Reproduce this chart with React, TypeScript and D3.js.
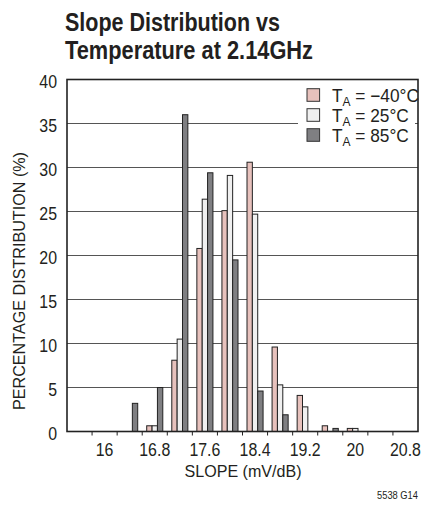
import React from "react";
import * as d3 from "d3";

const bins = [15.6, 16.0, 16.4, 16.8, 17.2, 17.6, 18.0, 18.4, 18.8, 19.2, 19.6, 20.0, 20.4, 20.8];
const tMinus40 = [0, 0, 0, 0.65, 8.1, 20.8, 25.1, 30.6, 9.6, 4.1, 0.65, 0.35, 0, 0];
const t25 = [0, 0, 0, 0.65, 10.5, 26.4, 29.1, 24.7, 5.3, 2.8, 0, 0.35, 0, 0];
const t85 = [0, 0, 3.2, 5.0, 36.0, 29.4, 19.5, 4.6, 1.9, 0, 0.35, 0, 0, 0];
const xTickLabels = ["16", "16.8", "17.6", "18.4", "19.2", "20", "20.8"];
const yTicks = [0, 5, 10, 15, 20, 25, 30, 35, 40];
const seriesNames = ["−40°C", "25°C", "85°C"];
const seriesColors = ["#e7c1bc", "#f0f0f0", "#7f7f82"];

const FONT = "'Liberation Sans', Arial, Helvetica, sans-serif";
const INK = "#231f20";

function NText(props: {
  x: number;
  y: number;
  sx?: number;
  size: number;
  anchor?: "start" | "middle" | "end";
  weight?: string;
  children: React.ReactNode;
}) {
  const sx = props.sx ?? 0.86;
  return (
    <g transform={`translate(${props.x},${props.y}) scale(${sx},1)`}>
      <text x={0} y={0} fontSize={props.size} textAnchor={props.anchor ?? "start"} fontWeight={props.weight ?? "normal"} fill={INK}>
        {props.children}
      </text>
    </g>
  );
}

export default function App() {
  const left = 67, right = 418, top = 79.5, bottom = 431.5;
  const x = d3.scaleBand<number>().domain(bins).range([left, right]).paddingInner(0).paddingOuter(0);
  const y = d3.scaleLinear().domain([0, 40]).range([bottom, top]);
  const inner = d3.scaleBand<number>().domain([0, 1, 2]).range([0, x.bandwidth()]).paddingInner(0).paddingOuter(0.84);
  const series = [tMinus40, t25, t85];
  const edges = bins.slice(1).map((b) => (x(b) as number));

  return (
    <svg width={425} height={519} style={{ position: "absolute", left: 0, top: 0, background: "#fff" }} fontFamily={FONT}>
      <rect x={0} y={0} width={425} height={519} fill="#fff" />
      {/* Title */}
      <text x={65} y={31} fontSize={25} fontWeight="bold" fill={INK} textLength={215} lengthAdjust="spacingAndGlyphs">
        Slope Distribution vs
      </text>
      <text x={65} y={59} fontSize={25} fontWeight="bold" fill={INK} textLength={248} lengthAdjust="spacingAndGlyphs">
        Temperature at 2.14GHz
      </text>

      {/* gridlines */}
      {yTicks.slice(1, -1).map((t) => (
        <line key={"g" + t} x1={left} x2={right} y1={y(t)} y2={y(t)} stroke="#555" strokeWidth={1.2} />
      ))}

      {/* legend background */}
      <rect x={298} y={81} width={117} height={66} fill="#fff" />

      {/* bars */}
      {series.map((vals, si) =>
        vals.map((v, i) =>
          v > 0 ? (
            <rect
              key={si + "-" + i}
              x={(x(bins[i]) as number) + (inner(si) as number)}
              y={y(v)}
              width={inner.bandwidth()}
              height={bottom - y(v)}
              fill={seriesColors[si]}
              stroke="#222"
              strokeWidth={1}
            />
          ) : null
        )
      )}

      {/* frame */}
      <rect x={left} y={top} width={right - left} height={bottom - top} fill="none" stroke="#222" strokeWidth={1.6} />

      {/* x ticks */}
      {edges.map((e, i) => (
        <line key={"t" + i} x1={e} x2={e} y1={bottom} y2={bottom + 4} stroke="#222" strokeWidth={1} />
      ))}
      {xTickLabels.map((l) => (
        <NText key={"xl" + l} x={(x(+l) as number) + x.bandwidth() / 2} y={456} size={18.5} anchor="middle">
          {l}
        </NText>
      ))}

      {/* y labels */}
      {yTicks.map((t) => (
        <NText key={"yl" + t} x={57} y={y(t) + 8} size={18.5} anchor="end">
          {t}
        </NText>
      ))}

      {/* axis titles */}
      <text x={243} y={477} fontSize={17} textAnchor="middle" fill={INK} textLength={117} lengthAdjust="spacingAndGlyphs">
        SLOPE (mV/dB)
      </text>
      <text
        transform="translate(25,281) rotate(-90)"
        x={0}
        y={0}
        fontSize={17}
        textAnchor="middle"
        fill={INK}
        textLength={258}
        lengthAdjust="spacingAndGlyphs"
      >
        PERCENTAGE DISTRIBUTION (%)
      </text>

      {/* legend */}
      {seriesNames.map((n, i) => {
        const cy = 95 + i * 20;
        return (
          <g key={"lg" + i}>
            <rect x={307} y={cy - 6.3} width={12.6} height={12.6} fill={seriesColors[i]} stroke="#333" strokeWidth={1} />
            <NText x={332} y={cy + 6.5} size={18} sx={0.96}>
              T
              <tspan fontSize={12.5} dy={4}>A</tspan>
              <tspan dy={-4}>{" = " + n}</tspan>
            </NText>
          </g>
        );
      })}

      <NText x={418} y={499} size={11} anchor="end" sx={0.85}>
        5538 G14
      </NText>
    </svg>
  );
}
